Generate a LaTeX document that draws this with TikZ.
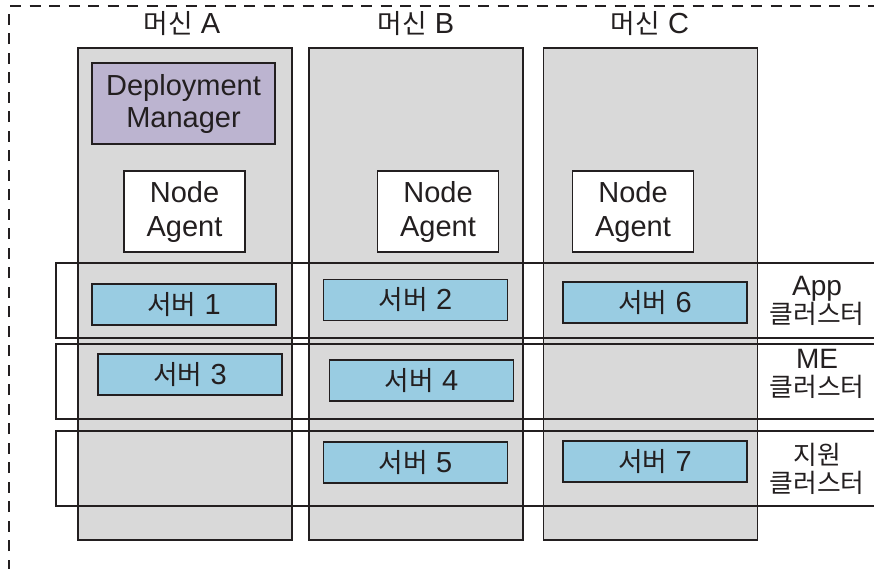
\documentclass[tikz,border=0pt]{standalone}
\usepackage{fontspec}
\setmainfont{Liberation Sans}
\newfontfamily\krfont{Noto Sans CJK KR}[Scale=0.92]
\newcommand{\kr}[1]{{\krfont #1}}

\definecolor{machgray}{HTML}{D9D9D9}
\definecolor{dmpurple}{HTML}{BCB4D0}
\definecolor{srvblue}{HTML}{99CCE2}
\definecolor{ink}{HTML}{231F20}

\tikzset{
  machine/.style={draw=ink, line width=1.8pt, fill=machgray, minimum width=214, minimum height=492, inner sep=0},
  cluster/.style={draw=ink, line width=2pt, minimum width=844, minimum height=75, inner sep=0},
  manager/.style={draw=ink, line width=1.8pt, fill=dmpurple, minimum width=183, minimum height=81, inner sep=0, align=center, font=\fontsize{29}{32}\selectfont},
  agent/.style={draw=ink, line width=1.8pt, fill=white, minimum width=121, minimum height=81, inner sep=0, align=center, font=\fontsize{29}{34}\selectfont},
  server/.style={draw=ink, line width=1.8pt, fill=srvblue, minimum width=184, minimum height=41, inner sep=0, font=\fontsize{29}{30}\selectfont},
  title/.style={inner sep=0, font=\fontsize{29}{30}\selectfont},
  rowlabel/.style={inner sep=0, align=center, font=\fontsize{28}{28}\selectfont},
  frame/.style={draw=ink, line width=1.6pt, dash pattern=on 11pt off 8.5pt}
}

\begin{document}
\begin{tikzpicture}[x=1pt, y=-1pt, text=ink]

  \useasboundingbox (0,0) rectangle (874,568);

  \draw[frame] (9,590) |- (890,6);

  \node (machA) [machine] at (185,294) {};
  \node (machB) [machine] at (416,294) {};
  \node (machC) [machine] at (650.5,294) {};

  \node (titleA) [title] at (182,24) {\kr{머신} A};
  \node (titleB) [title] at (416,24) {\kr{머신} B};
  \node (titleC) [title] at (650,24) {\kr{머신} C};

  \node (appRow) [cluster] at (478,300.5) {};
  \node (meRow) [cluster] at (478,381.5) {};
  \node (supRow) [cluster] at (478,468.5) {};

  \node (depMgr) [manager] at (183.5,103.5) {Deployment\\Manager};

  \node (agentA) [agent] at (184.5,211.5) {Node\\Agent};
  \node (agentB) [agent] at (438,211.5) {Node\\Agent};
  \node (agentC) [agent] at (633,211.5) {Node\\Agent};

  \node (srv1) [server] at (184,304.5) {\kr{서버} 1};
  \node (srv2) [server] at (415.5,300) {\kr{서버} 2};
  \node (srv6) [server] at (655,302.5) {\kr{서버} 6};
  \node (srv3) [server] at (190,374.5) {\kr{서버} 3};
  \node (srv4) [server] at (421.5,380.5) {\kr{서버} 4};
  \node (srv5) [server] at (415.5,462.5) {\kr{서버} 5};
  \node (srv7) [server] at (655,461.5) {\kr{서버} 7};

  \node (appLbl) [rowlabel] at (817,301) {App\\\kr{클러스터}};
  \node (meLbl) [rowlabel] at (817,374) {ME\\\kr{클러스터}};
  \node (supLbl) [rowlabel] at (817,468.5) {\kr{지원}\\\kr{클러스터}};

\end{tikzpicture}
\end{document}
